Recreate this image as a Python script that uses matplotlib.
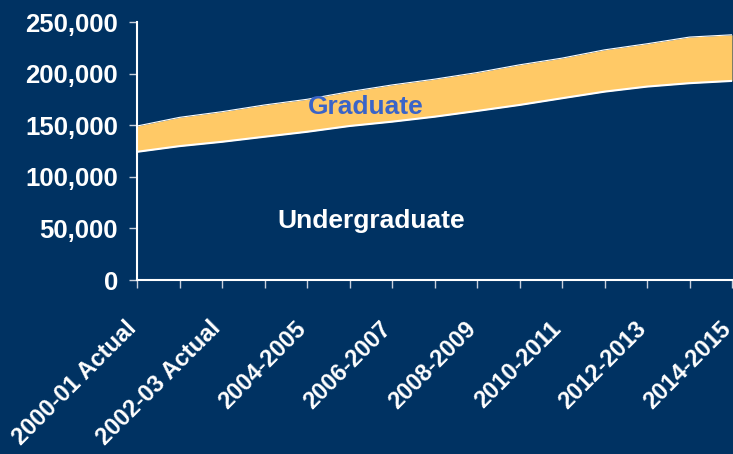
import matplotlib
matplotlib.use("Agg")
import matplotlib.pyplot as plt

# Données (en milliers d'étudiants)
years = ["2000-01 Actual", "2001-02", "2002-03 Actual", "2003-2004", "2004-2005",
         "2005-2006", "2006-2007", "2007-2008", "2008-2009", "2009-2010",
         "2010-2011", "2011-2012", "2012-2013", "2013-2014", "2014-2015"]
undergrad = [124.2, 129.7, 133.9, 138.8, 143.6, 149.2, 153.4, 158.2,
             163.8, 169.6, 176.1, 182.5, 187.4, 190.7, 192.9]
graduate = [25.0, 27.9, 29.2, 30.8, 31.5, 33.3, 35.6, 36.4,
            37.2, 38.9, 38.9, 40.5, 41.5, 44.7, 44.7]

navy = "#003262"
gold = "#FFC966"
plt.rcParams["font.family"] = ["Liberation Sans", "DejaVu Sans"]
plt.rcParams["font.weight"] = "bold"

x = list(range(len(years)))
undergrad_v = [u * 1000 for u in undergrad]
total_v = [(u + g) * 1000 for u, g in zip(undergrad, graduate)]

fig = plt.figure(figsize=(7.33, 4.54), dpi=100, facecolor=navy)
ax = fig.add_axes([137 / 733, 1 - 280 / 454, 595 / 733, 258 / 454])
ax.set_facecolor(navy)

ax.fill_between(x, 0, undergrad_v, color=navy, linewidth=0)
ax.fill_between(x, undergrad_v, total_v, color=gold, linewidth=0)
ax.plot(x, undergrad_v, color="white", linewidth=1.5)
ax.plot(x, total_v, color="white", linewidth=0.8)

ax.set_xlim(0, len(years) - 1)
ax.set_ylim(0, 250000)
ax.set_yticks(range(0, 250001, 50000))
ax.set_yticklabels([f"{v:,}" for v in range(0, 250001, 50000)],
                   fontsize=18.5, fontweight="bold", color="white")
ax.set_xticks(x)
ax.set_xticklabels([lbl if i % 2 == 0 else "" for i, lbl in enumerate(years)],
                   rotation=45, ha="right", va="baseline", rotation_mode="anchor",
                   fontsize=17, fontweight="bold", color="white")

ax.tick_params(axis="both", direction="out", length=5.8, width=1,
               color="#C8D0DC")
ax.tick_params(axis="y", pad=8)
ax.tick_params(axis="x", pad=30)

for side in ["top", "right"]:
    ax.spines[side].set_visible(False)
for side in ["left", "bottom"]:
    ax.spines[side].set_color("white")
    ax.spines[side].set_linewidth(1.5)

ax.text(5.39, 160800, "Graduate", color="#3A64C8", fontsize=19,
        fontweight="bold", ha="center", va="baseline")
ax.text(5.51, 50000, "Undergraduate", color="white", fontsize=19,
        fontweight="bold", ha="center", va="baseline")

fig.savefig("out.png", dpi=100, facecolor=navy)
